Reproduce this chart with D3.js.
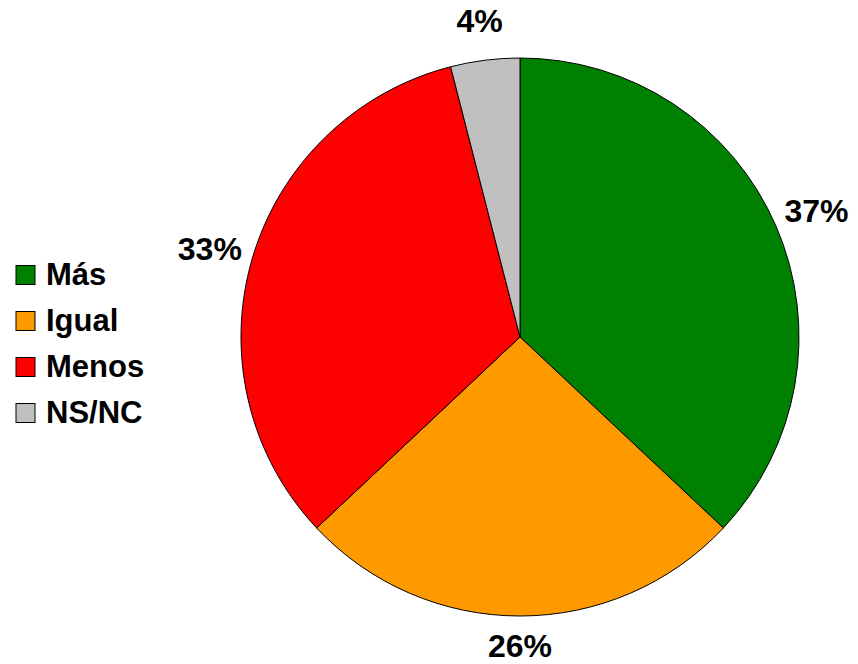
<!DOCTYPE html>
<html>
<head>
<meta charset="utf-8">
<script src="https://cdn.jsdelivr.net/npm/d3@7"></script>
<style>
  body { margin: 0; background: #fff; }
  text { font-family: "Liberation Sans", Arial, sans-serif; font-weight: bold; fill: #000; }
</style>
</head>
<body>
<svg id="chart" width="858" height="664"></svg>
<script>
const categories = ["Más", "Igual", "Menos", "NS/NC"];
const values = [37, 26, 33, 4];
const colors = ["#008000", "#FF9900", "#FF0000", "#C0C0C0"];

const svg = d3.select("#chart");
const cx = 520, cy = 337, r = 279;

const pie = d3.pie().sort(null).value(d => d.value);
const arcs = pie(categories.map((c, i) => ({ name: c, value: values[i], color: colors[i] })));
const arc = d3.arc().innerRadius(0).outerRadius(r);

const g = svg.append("g").attr("transform", `translate(${cx},${cy})`);

g.selectAll("path")
    .data(arcs)
    .enter()
    .append("path")
    .attr("d", arc)
    .attr("fill", d => d.data.color)
    .attr("stroke", "#000")
    .attr("stroke-width", 1);

// labels just outside the pie, a bit closer below than above
function labelPos(d) {
    const a = (d.startAngle + d.endAngle) / 2;
    const c = -Math.cos(a);
    const ry = c > 0 ? r + 29 : r + 40;
    return [(r + 44) * Math.sin(a), ry * c];
}

g.selectAll("text.lbl")
    .data(arcs)
    .enter()
    .append("text")
    .attr("class", "lbl")
    .attr("x", d => labelPos(d)[0])
    .attr("y", d => labelPos(d)[1])
    .attr("dy", "0.36em")
    .attr("text-anchor", "middle")
    .style("font-size", "32px")
    .text(d => d.data.value + "%");

// legend
const legend = svg.append("g");
const rows = legend.selectAll("g")
    .data(categories)
    .enter()
    .append("g")
    .attr("transform", (d, i) => `translate(0,${285 + i * 46})`);

rows.append("rect")
    .attr("x", 16)
    .attr("y", -19.5)
    .attr("width", 19)
    .attr("height", 19)
    .attr("fill", (d, i) => colors[i])
    .attr("stroke", "#000")
    .attr("stroke-width", 1);

rows.append("text")
    .attr("x", 46)
    .attr("y", 0)
    .style("font-size", "31px")
    .text(d => d);
</script>
</body>
</html>
